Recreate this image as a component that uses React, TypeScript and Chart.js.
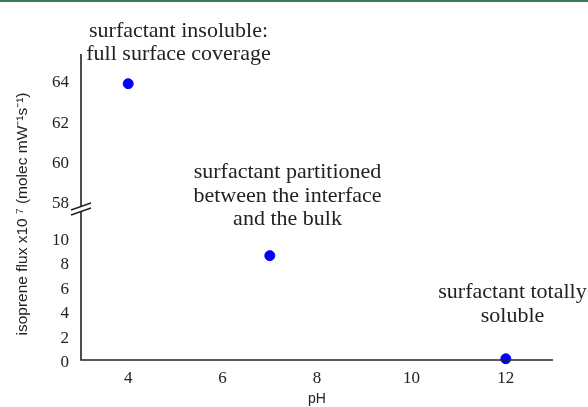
import { useEffect, useRef } from 'react';
import { Chart, registerables } from 'chart.js';

Chart.register(...registerables);

const xTicks = [4, 6, 8, 10, 12];
const upperTicks = [58, 60, 62, 64];
const lowerTicks = [0, 2, 4, 6, 8, 10];
const upperPoints = [{ x: 4, y: 63.8 }];
const lowerPoints = [
  { x: 7, y: 8.5 },
  { x: 12, y: 0.1 },
];
const xTitle = 'pH';
const yTitle = 'isoprene flux x10 ⁷ (molec mW⁻¹s⁻¹)';
const noteInsoluble = ['surfactant insoluble:', 'full surface coverage'];
const notePartitioned = ['surfactant partitioned', 'between the interface', 'and the bulk'];
const noteSoluble = ['surfactant totally', 'soluble'];

const SERIF = '"Liberation Serif", "Times New Roman", serif';
const SANS = '"Liberation Sans", Arial, sans-serif';
const INK = '#222222';

const decorPlugin = {
  id: 'decor',
  afterDraw(chart: any) {
    const { ctx, chartArea, scales } = chart;
    const left = chartArea.left;
    const top = chartArea.top;
    const bottom = chartArea.bottom;
    const right = chartArea.right;
    const breakY = scales.yTop.bottom;
    ctx.save();
    // top green rule
    ctx.fillStyle = '#3a7b57';
    ctx.fillRect(0, 0, chart.width, 2);
    // axis lines
    ctx.strokeStyle = INK;
    ctx.lineWidth = 1.6;
    ctx.beginPath();
    ctx.moveTo(left, top);
    ctx.lineTo(left, breakY - 2.5);
    ctx.moveTo(left, breakY + 2.5);
    ctx.lineTo(left, bottom);
    ctx.lineTo(right, bottom);
    ctx.stroke();
    // break marks
    ctx.lineWidth = 1.4;
    ctx.beginPath();
    ctx.moveTo(left - 10, breakY + 1);
    ctx.lineTo(left + 10, breakY - 6);
    ctx.moveTo(left - 10, breakY + 6);
    ctx.lineTo(left + 10, breakY - 1);
    ctx.stroke();
    // y title
    ctx.fillStyle = INK;
    ctx.font = `15.5px ${SANS}`;
    ctx.textAlign = 'center';
    ctx.textBaseline = 'middle';
    ctx.translate(23, 214);
    ctx.rotate(-Math.PI / 2);
    ctx.fillText(yTitle, 0, 0);
    ctx.restore();

    ctx.save();
    ctx.fillStyle = INK;
    ctx.font = `22px ${SERIF}`;
    ctx.textAlign = 'center';
    ctx.textBaseline = 'alphabetic';
    noteInsoluble.forEach((t, i) => ctx.fillText(t, 178.5, 37 + i * 23));
    notePartitioned.forEach((t, i) => ctx.fillText(t, 287.5, 178 + i * 23.5));
    noteSoluble.forEach((t, i) => ctx.fillText(t, 512.5, 298 + i * 24));
    ctx.restore();
  },
};

export default function App() {
  const canvasRef = useRef<HTMLCanvasElement | null>(null);

  useEffect(() => {
    if (!canvasRef.current) return;
    const tickFont = { family: SERIF, size: 17 };
    const chart = new Chart(canvasRef.current, {
      type: 'scatter',
      data: {
        datasets: [
          {
            data: upperPoints,
            yAxisID: 'yTop',
            backgroundColor: '#0000ff',
            borderColor: '#0000ff',
            pointRadius: 5,
            clip: false as any,
          },
          {
            data: lowerPoints,
            yAxisID: 'yBot',
            backgroundColor: '#0000ff',
            borderColor: '#0000ff',
            pointRadius: 5,
            clip: false as any,
          },
        ],
      },
      options: {
        animation: false,
        responsive: false,
        events: [],
        layout: { padding: { top: 54, right: 35, left: 0, bottom: 0 } },
        plugins: { legend: { display: false }, tooltip: { enabled: false } },
        scales: {
          x: {
            type: 'linear',
            position: 'bottom',
            min: 3,
            max: 13,
            grid: { display: false, drawTicks: false },
            border: { display: false },
            afterBuildTicks: (s: any) => {
              s.ticks = xTicks.map((v) => ({ value: v }));
            },
            afterFit: (s: any) => {
              s.height = 47;
            },
            ticks: { font: tickFont, color: INK, padding: 8, maxRotation: 0, autoSkip: false },
            title: {
              display: true,
              text: xTitle,
              font: { family: SANS, size: 14 },
              color: INK,
              padding: { top: 0, bottom: -1 },
            },
          },
          yBot: {
            type: 'linear',
            position: 'left',
            stack: 'y',
            stackWeight: 151,
            min: 0,
            max: 12.3,
            grid: { display: false, drawTicks: false },
            border: { display: false },
            afterBuildTicks: (s: any) => {
              s.ticks = lowerTicks.map((v) => ({ value: v }));
            },
            afterFit: (s: any) => {
              s.width = 81;
            },
            ticks: { font: tickFont, color: INK, padding: 12, labelOffset: 3, autoSkip: false },
          },
          yTop: {
            type: 'linear',
            position: 'left',
            stack: 'y',
            stackWeight: 155,
            min: 57.6,
            max: 65.27,
            grid: { display: false, drawTicks: false },
            border: { display: false },
            afterBuildTicks: (s: any) => {
              s.ticks = upperTicks.map((v) => ({ value: v }));
            },
            afterFit: (s: any) => {
              s.width = 81;
            },
            ticks: { font: tickFont, color: INK, padding: 12, labelOffset: 3, autoSkip: false },
          },
        },
      } as any,
      plugins: [decorPlugin],
    });
    return () => chart.destroy();
  }, []);

  return (
    <div style={{ position: 'absolute', left: 0, top: 0, width: 588, height: 407, background: '#fff' }}>
      <canvas ref={canvasRef} width={588} height={407} style={{ width: 588, height: 407, display: 'block' }} />
    </div>
  );
}
